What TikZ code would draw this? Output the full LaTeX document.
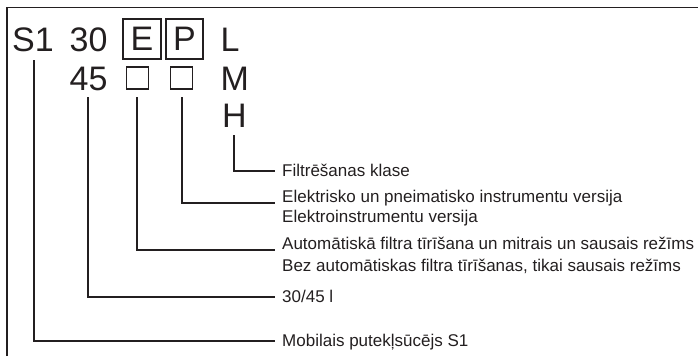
\documentclass[tikz,border=0pt]{standalone}
\usepackage{fontspec}
\setmainfont{Liberation Sans}
\definecolor{ink}{HTML}{231F20}
\begin{document}
\begin{tikzpicture}[x=1pt,y=-1pt,
  big/.style={inner sep=0pt,anchor=base west,font=\fontsize{34}{40}\selectfont,text=ink},
  small/.style={inner sep=0pt,anchor=base west,font=\fontsize{17}{20}\selectfont,text=ink},
  frame/.style={draw=ink,line width=1.6pt},
  conn/.style={draw=ink,line width=1.7pt},
  codebox/.style={draw=ink,line width=1.5pt,inner sep=0pt},
  smallbox/.style={draw=ink,line width=1.1pt,inner sep=0pt}]
\useasboundingbox (0,0) rectangle (698,356);
% frame (top and left only)
\coordinate (fr1) at (7,356);
\coordinate (fr2) at (7,7.5);
\coordinate (fr3) at (698,7.5);
\draw[frame] (fr1) -- (fr2) -- (fr3);
% code letters
\node[big] (s1) at (12,51) {S1};
\node[big] (n30) at (69.5,51) {30};
\node[big] (n45) at (69.5,90) {45};
\node[codebox,minimum width=38pt,minimum height=40pt] (ebox) at (142,39) {};
\node[inner sep=0pt,font=\fontsize{34}{40}\selectfont,text=ink] (e) at (142,39) {E};
\node[codebox,minimum width=37pt,minimum height=40pt] (pbox) at (184.5,39) {};
\node[inner sep=0pt,font=\fontsize{34}{40}\selectfont,text=ink] (p) at (184.5,39) {P};
\node[smallbox,minimum width=22pt,minimum height=22pt] (esq) at (137.5,78) {};
\node[smallbox,minimum width=22pt,minimum height=22pt] (psq) at (181.5,78) {};
\node[big] (l) at (220.5,51) {L};
\node[big] (m) at (220.5,90) {M};
\node[big] (h) at (222,127) {H};
% descriptions
\node[small] (t1) at (282,176.5) {Filtrēšanas klase};
\node[small] (t2a) at (282,202) {Elektrisko un pneimatisko instrumentu versija};
\node[small] (t2b) at (282,222.5) {Elektroinstrumentu versija};
\node[small] (t3a) at (282,249) {Automātiskā filtra tīrīšana un mitrais un sausais režīms};
\node[small] (t3b) at (282,271) {Bez automātiskas filtra tīrīšanas, tikai sausais režīms};
\node[small] (t4) at (282,302) {30/45 l};
\node[small] (t5) at (282,346.5) {Mobilais putekļsūcējs S1};
% connector coordinates
\coordinate (hs) at (234,135);  \coordinate (he) at (275,171);
\coordinate (ps) at (182,97);   \coordinate (pe) at (275,203);
\coordinate (es) at (137,97);   \coordinate (ee) at (275,250);
\coordinate (vs) at (88,97);    \coordinate (ve) at (275,297);
\coordinate (ss) at (34,60);    \coordinate (se) at (275,341);
\draw[conn] (hs) |- (he);
\draw[conn] (ps) |- (pe);
\draw[conn] (es) |- (ee);
\draw[conn] (vs) |- (ve);
\draw[conn] (ss) |- (se);
\end{tikzpicture}
\end{document}
